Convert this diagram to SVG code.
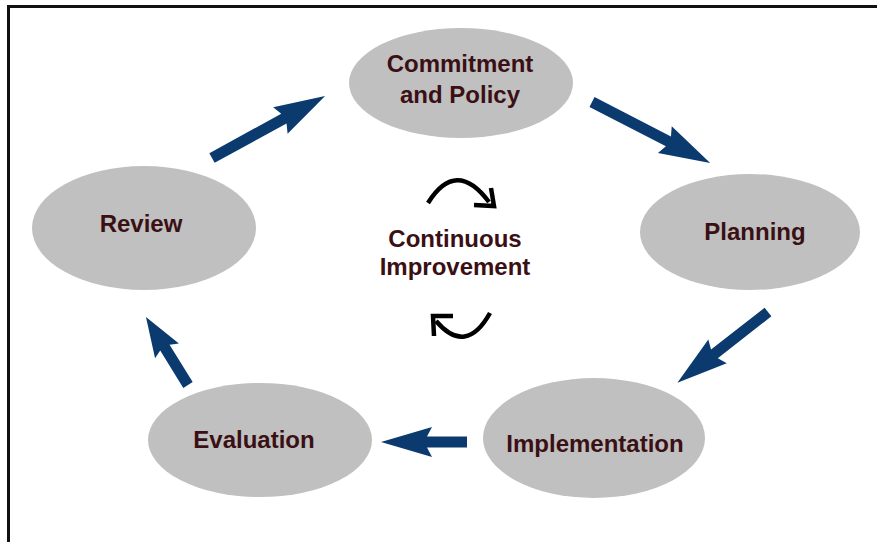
<svg xmlns="http://www.w3.org/2000/svg" width="877" height="542" viewBox="0 0 877 542">
<defs>
<style>
.node ellipse{fill:#c0c0c0;}
.lbl{font-family:"Liberation Sans",Arial,sans-serif;font-weight:bold;font-size:24px;fill:#3a1014;text-anchor:middle;}
.blk{fill:#0b3a6f;}
.curve{fill:none;stroke:#000;stroke-width:4.5;stroke-linecap:butt;stroke-linejoin:miter;}
</style>
</defs>
<rect x="0" y="0" width="877" height="542" fill="#fff"/>
<path d="M8.5,542 L8.5,6.5 L877,6.5" fill="none" stroke="#111" stroke-width="3"/>

<g id="commitment" class="node">
<ellipse cx="461" cy="83" rx="112" ry="55"/>
<text class="lbl" x="460" y="72">Commitment</text>
<text class="lbl" x="460" y="103">and Policy</text>
</g>
<g id="planning" class="node">
<ellipse cx="750" cy="232" rx="110" ry="58"/>
<text class="lbl" x="755" y="240">Planning</text>
</g>
<g id="implementation" class="node">
<ellipse cx="594" cy="438" rx="111" ry="60"/>
<text class="lbl" x="595" y="452">Implementation</text>
</g>
<g id="evaluation" class="node">
<ellipse cx="260" cy="440" rx="112" ry="57"/>
<text class="lbl" x="254" y="448">Evaluation</text>
</g>
<g id="review" class="node">
<ellipse cx="144" cy="228" rx="112" ry="62"/>
<text class="lbl" x="141" y="232">Review</text>
</g>
<g id="center">
<text class="lbl" x="455" y="247">Continuous</text>
<text class="lbl" x="455" y="275">Improvement</text>
<path class="curve" d="M428,203 Q456,158 489,202"/>
<path class="curve" d="M474,205 L494,206 L491,188"/>
<path class="curve" d="M490,313 Q466,356 436,321"/>
<path class="curve" d="M453,316 L433,316 L434,336"/>
</g>

<g id="connectors">
<path class="blk" transform="translate(212,158) rotate(-28.75)" d="M0,-5.5 L82,-5.5 L78,-15 L129,0 L78,15 L82,5.5 L0,5.5 Z"/>
<path class="blk" transform="translate(592,102) rotate(27.3)" d="M0,-5.5 L86,-5.5 L82,-15 L133,0 L82,15 L86,5.5 L0,5.5 Z"/>
<path class="blk" transform="translate(768,312) rotate(142)" d="M0,-5.5 L68,-5.5 L64,-15 L115,0 L64,15 L68,5.5 L0,5.5 Z"/>
<path class="blk" transform="translate(467,442) rotate(180)" d="M0,-5.5 L40,-5.5 L35,-15 L86,0 L35,15 L40,5.5 L0,5.5 Z"/>
<path class="blk" transform="translate(188,385) rotate(-121.7)" d="M0,-5.5 L44,-5.5 L40,-14 L80,0 L40,14 L44,5.5 L0,5.5 Z"/>
</g>
</svg>
